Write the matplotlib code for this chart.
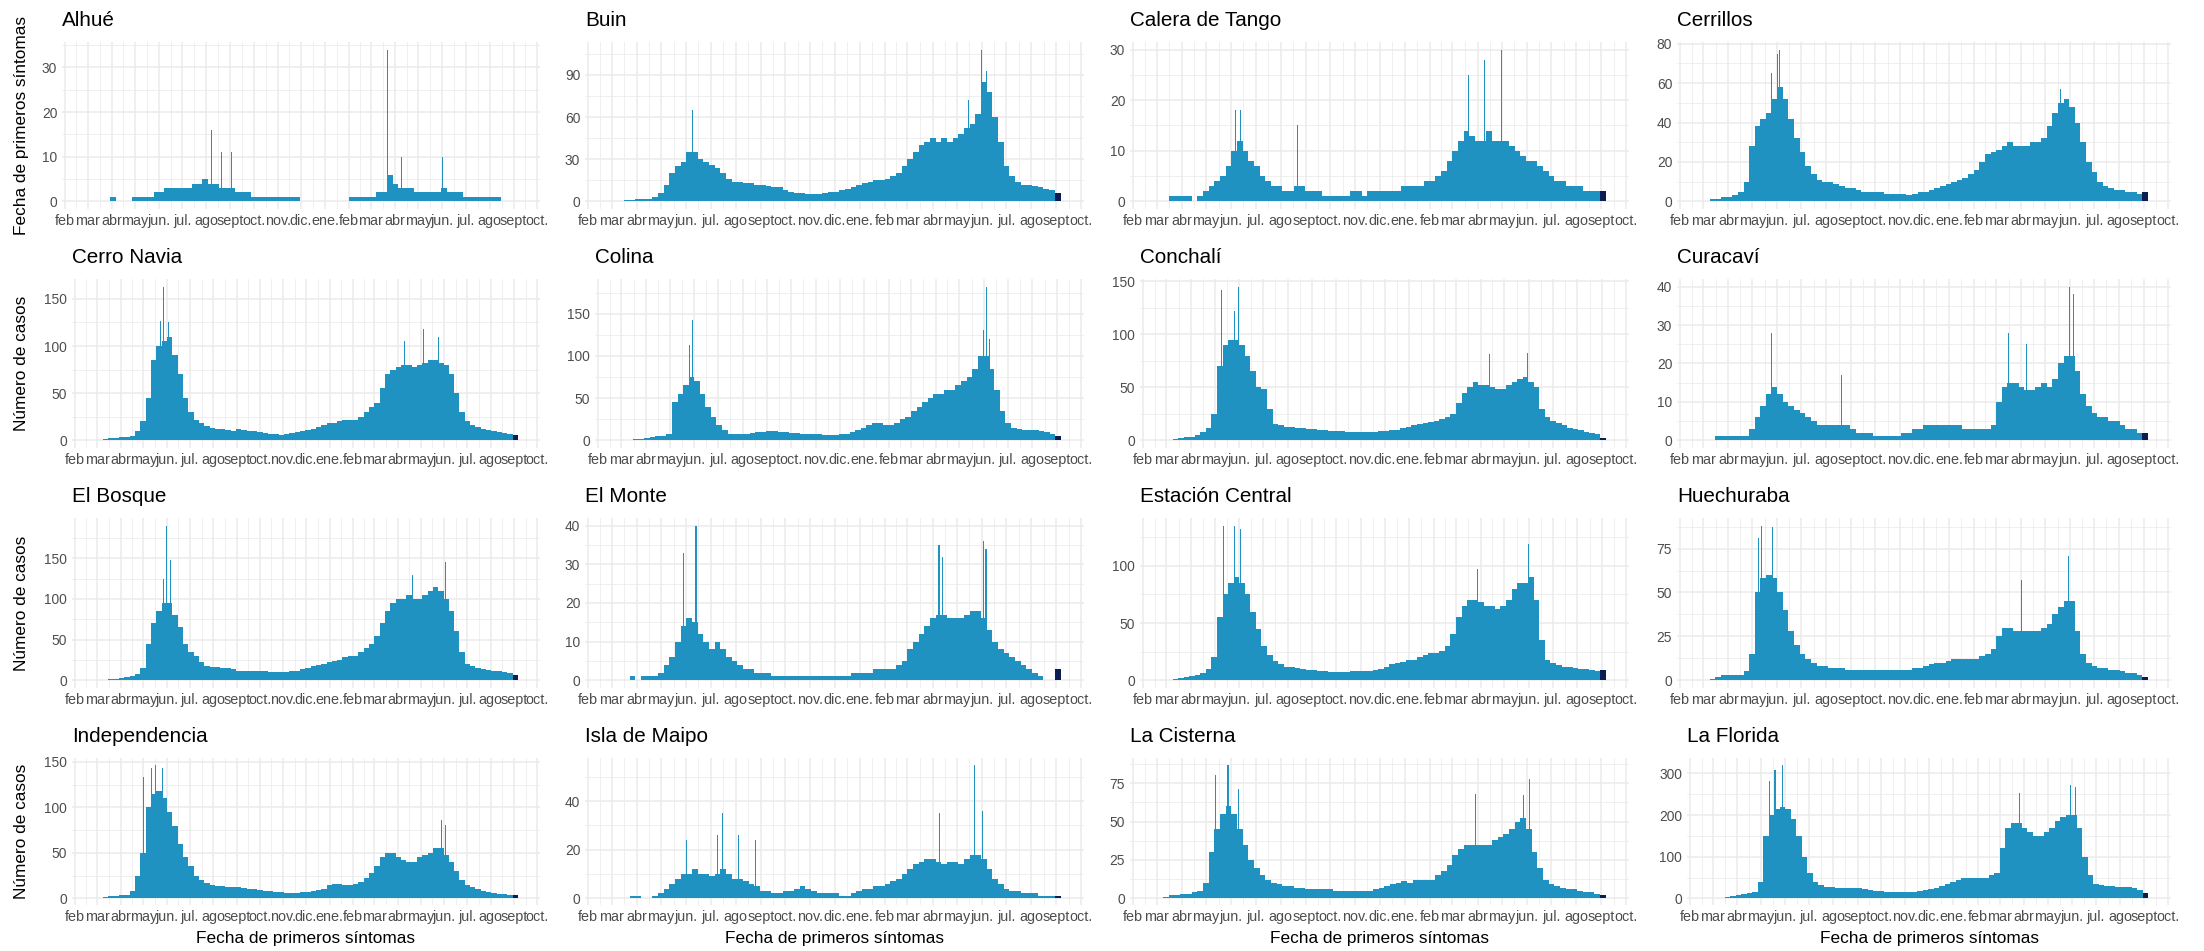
import matplotlib
matplotlib.use("Agg")
import matplotlib.pyplot as plt
import matplotlib.dates as mdates
from matplotlib.ticker import MultipleLocator
import numpy as np
import pandas as pd

plt.rcParams["font.family"] = ["Liberation Sans", "DejaVu Sans"]

# casos por semana de primeros síntomas (lunes desde el 2 de marzo 2020);
# la última semana es provisoria
semanas = pd.date_range("2020-03-02", periods=79, freq="7D")

alhue = [0, 0, 0, 0, 1, 0, 0, 0, 1, 1, 1, 1, 2, 2, 3, 3, 3, 3, 3, 4, 4, 5, 4, 4, 3, 3,
         3, 2, 2, 2, 1, 1, 1, 1, 1, 1, 1, 1, 1, 0, 0, 0, 0, 0, 0, 0, 0, 0, 1, 1, 1, 1,
         1, 2, 2, 6, 4, 3, 3, 3, 2, 2, 2, 2, 2, 3, 2, 2, 2, 1, 1, 1, 1, 1, 1, 1, 0, 0, 0]
buin = [0, 0, 1, 1, 2, 2, 2, 3, 6, 12, 20, 25, 28, 35, 35, 30, 28, 26, 24, 20, 16, 14, 14, 13, 13, 12,
        12, 11, 10, 10, 8, 7, 6, 6, 5, 5, 5, 6, 7, 7, 8, 9, 10, 12, 13, 14, 15, 15, 16, 18, 20, 25,
        30, 35, 40, 42, 45, 42, 45, 42, 45, 48, 52, 55, 62, 85, 78, 60, 42, 25, 18, 14, 12, 12, 11, 10, 9, 8, 6]
calera = [0, 0, 1, 1, 1, 1, 0, 1, 2, 3, 4, 5, 7, 10, 12, 10, 8, 7, 5, 4, 3, 3, 2, 2, 3, 3,
          2, 2, 2, 1, 1, 1, 1, 1, 2, 2, 1, 2, 2, 2, 2, 2, 2, 3, 3, 3, 3, 4, 4, 5, 6, 8,
          10, 12, 14, 13, 12, 12, 14, 12, 12, 12, 11, 10, 9, 8, 8, 7, 6, 5, 4, 4, 3, 3, 3, 2, 2, 2, 2]
cerrillos = [0, 1, 1, 2, 2, 3, 5, 10, 28, 38, 42, 45, 52, 58, 52, 42, 32, 25, 18, 14, 11, 10, 10, 9, 8, 7,
             7, 6, 5, 5, 5, 5, 4, 4, 4, 4, 3, 4, 5, 5, 6, 7, 8, 9, 10, 11, 12, 14, 16, 20, 24, 25,
             26, 28, 30, 28, 28, 28, 30, 30, 32, 38, 45, 50, 52, 48, 40, 30, 20, 15, 10, 8, 7, 6, 6, 5, 5, 4, 5]
cerro_navia = [0, 1, 2, 2, 3, 4, 5, 10, 20, 45, 85, 100, 105, 110, 90, 70, 45, 30, 22, 18, 15, 13, 12, 12, 11, 10,
               12, 11, 10, 10, 9, 8, 7, 7, 6, 7, 8, 9, 10, 11, 12, 14, 16, 18, 18, 20, 22, 22, 22, 25, 30, 35,
               40, 55, 70, 75, 78, 80, 80, 78, 80, 82, 85, 85, 82, 80, 70, 50, 30, 20, 16, 14, 12, 11, 10, 9, 8, 7, 6]
colina = [0, 0, 1, 2, 3, 4, 5, 5, 8, 45, 55, 65, 75, 70, 55, 40, 28, 18, 12, 8, 7, 7, 8, 9, 10, 10,
          11, 11, 10, 10, 9, 9, 8, 8, 8, 7, 6, 6, 6, 7, 8, 10, 12, 14, 18, 20, 20, 18, 18, 20, 25, 28,
          35, 40, 45, 50, 55, 55, 60, 60, 65, 70, 75, 85, 100, 100, 85, 60, 35, 20, 15, 13, 12, 12, 12, 11, 10, 8, 5]
conchali = [0, 1, 2, 3, 3, 5, 8, 12, 25, 70, 90, 95, 95, 90, 80, 65, 50, 48, 30, 15, 14, 13, 13, 12, 12, 11,
            11, 10, 10, 9, 9, 9, 8, 8, 8, 8, 8, 8, 9, 9, 10, 10, 12, 13, 14, 15, 16, 17, 18, 20, 22, 25,
            35, 45, 50, 55, 52, 52, 50, 48, 48, 52, 55, 58, 60, 55, 50, 30, 22, 18, 16, 14, 12, 11, 10, 8, 7, 6, 2]
curacavi = [0, 0, 1, 1, 1, 1, 1, 1, 3, 6, 9, 12, 14, 12, 10, 9, 8, 7, 6, 5, 4, 4, 4, 4, 4, 4,
            3, 2, 2, 2, 1, 1, 1, 1, 1, 2, 2, 3, 3, 4, 4, 4, 4, 4, 4, 4, 3, 3, 3, 3, 3, 4,
            10, 14, 15, 15, 14, 13, 13, 14, 15, 14, 16, 20, 22, 22, 18, 12, 9, 7, 6, 6, 5, 5, 4, 3, 3, 2, 2]
el_bosque = [0, 0, 1, 2, 3, 4, 5, 8, 15, 45, 70, 85, 95, 95, 80, 65, 45, 35, 30, 22, 18, 16, 16, 15, 15, 14,
             12, 12, 12, 11, 11, 11, 10, 10, 10, 10, 11, 12, 14, 15, 17, 19, 20, 22, 24, 25, 28, 30, 30, 35, 40, 45,
             55, 70, 85, 95, 100, 100, 105, 100, 100, 105, 110, 115, 110, 100, 85, 60, 35, 20, 17, 15, 14, 13, 12, 11, 10, 9, 7]
el_monte = [0, 0, 0, 1, 0, 1, 1, 1, 2, 4, 6, 10, 14, 16, 15, 12, 10, 8, 10, 8, 6, 5, 4, 3, 3, 2,
            2, 2, 1, 1, 1, 1, 1, 1, 1, 1, 1, 1, 1, 1, 1, 1, 2, 2, 2, 2, 3, 3, 3, 3, 4, 5,
            8, 10, 12, 14, 16, 17, 17, 16, 16, 16, 17, 18, 18, 16, 13, 10, 8, 7, 6, 5, 4, 3, 2, 1, 0, 0, 3]
est_central = [0, 1, 2, 3, 4, 5, 6, 10, 20, 55, 75, 85, 90, 85, 75, 60, 45, 30, 22, 17, 14, 12, 12, 11, 10, 9,
               9, 8, 8, 7, 7, 7, 7, 8, 8, 8, 8, 9, 10, 12, 14, 15, 16, 18, 18, 20, 22, 24, 24, 26, 30, 40,
               55, 65, 70, 70, 68, 65, 65, 62, 65, 70, 80, 85, 85, 90, 70, 35, 18, 15, 13, 12, 12, 11, 10, 10, 9, 8, 9]
huechuraba = [0, 1, 2, 3, 3, 3, 3, 5, 15, 50, 58, 60, 58, 50, 40, 28, 20, 15, 12, 10, 8, 8, 7, 7, 7, 6,
              6, 6, 6, 6, 6, 6, 6, 6, 6, 6, 6, 7, 7, 8, 9, 10, 10, 11, 12, 12, 12, 12, 12, 14, 15, 18,
              25, 30, 30, 28, 28, 28, 28, 28, 30, 32, 38, 42, 45, 45, 28, 15, 10, 8, 7, 7, 6, 6, 5, 4, 4, 3, 2]
independencia = [0, 1, 2, 3, 4, 4, 8, 25, 50, 100, 115, 118, 110, 95, 80, 60, 45, 35, 25, 20, 17, 15, 14, 13, 12, 12,
                 12, 11, 10, 10, 9, 8, 8, 7, 7, 6, 6, 6, 7, 7, 8, 9, 10, 15, 16, 16, 15, 15, 16, 18, 22, 28,
                 35, 45, 50, 50, 45, 42, 40, 40, 45, 48, 50, 55, 55, 48, 40, 30, 20, 15, 12, 10, 8, 7, 6, 5, 5, 4, 4]
isla_maipo = [0, 0, 0, 1, 1, 0, 0, 1, 2, 4, 6, 8, 10, 10, 12, 10, 10, 9, 10, 12, 10, 8, 8, 7, 6, 5,
              3, 3, 2, 2, 3, 3, 4, 5, 4, 3, 2, 2, 2, 2, 1, 1, 2, 3, 4, 4, 5, 5, 6, 7, 8, 10,
              12, 14, 15, 16, 16, 15, 14, 15, 15, 14, 16, 18, 18, 16, 12, 8, 6, 4, 3, 3, 2, 2, 2, 1, 1, 1, 1]
la_cisterna = [0, 1, 2, 2, 3, 3, 4, 5, 10, 30, 45, 55, 60, 55, 45, 35, 25, 20, 15, 12, 10, 9, 8, 8, 7, 7,
               6, 6, 6, 6, 6, 5, 5, 5, 5, 5, 5, 5, 6, 7, 8, 9, 10, 11, 10, 12, 12, 12, 12, 15, 18, 22,
               28, 32, 35, 35, 35, 35, 35, 38, 40, 42, 45, 50, 52, 45, 30, 20, 12, 9, 8, 7, 6, 6, 5, 4, 4, 3, 2]
la_florida = [0, 1, 3, 5, 8, 10, 12, 15, 40, 150, 200, 215, 220, 215, 190, 150, 100, 60, 40, 32, 28, 26, 25, 25, 25, 24,
              25, 22, 20, 18, 17, 16, 15, 15, 15, 15, 16, 18, 20, 22, 25, 30, 35, 40, 45, 48, 50, 50, 48, 50, 55, 60,
              120, 170, 180, 180, 170, 160, 150, 150, 160, 170, 185, 195, 200, 200, 170, 100, 55, 35, 32, 30, 30, 28, 28, 26, 24, 20, 12]

# días puntuales que sobresalen (fecha, casos)
alhue_picos = [("2020-08-08", 16), ("2020-08-20", 11), ("2020-09-02", 11), ("2021-03-23", 34),
               ("2021-04-10", 10), ("2021-06-01", 10)]
buin_picos = [("2020-06-09", 65), ("2021-05-16", 72), ("2021-06-01", 108), ("2021-06-07", 93)]
calera_picos = [("2020-06-06", 18), ("2020-06-12", 18), ("2020-08-22", 15), ("2021-03-21", 25),
                ("2021-04-10", 28), ("2021-05-01", 30)]
cerrillos_picos = [("2020-05-25", 65), ("2020-06-01", 75), ("2020-06-04", 77), ("2021-05-14", 44),
                   ("2021-05-20", 57)]
cerro_navia_picos = [("2020-05-24", 127), ("2020-05-28", 163), ("2020-06-03", 125), ("2021-04-10", 105),
                     ("2021-05-05", 118), ("2021-05-25", 110)]
colina_picos = [("2020-05-26", 113), ("2020-05-30", 142), ("2021-05-31", 131), ("2021-06-04", 182),
                ("2021-06-08", 120)]
conchali_picos = [("2020-05-10", 142), ("2020-05-26", 122), ("2020-05-31", 145), ("2021-04-12", 81),
                  ("2021-05-30", 82)]
curacavi_picos = [("2020-05-25", 28), ("2020-08-20", 17), ("2021-03-16", 28), ("2021-04-08", 25),
                  ("2021-05-31", 40), ("2021-06-05", 38)]
el_bosque_picos = [("2020-05-27", 125), ("2020-05-31", 190), ("2020-06-05", 148), ("2021-04-20", 130),
                   ("2021-06-02", 146)]
el_monte_picos = [("2020-05-29", 33), ("2020-06-13", 40), ("2021-04-09", 35), ("2021-04-13", 32),
                  ("2021-06-03", 36), ("2021-06-06", 34)]
est_central_picos = [("2020-05-12", 135), ("2020-05-26", 135), ("2020-06-02", 132), ("2021-03-28", 97),
                     ("2021-05-31", 119)]
huechuraba_picos = [("2020-05-09", 81), ("2020-05-12", 88), ("2020-05-26", 87), ("2021-04-01", 57),
                    ("2021-05-30", 71)]
independencia_picos = [("2020-05-01", 133), ("2020-05-12", 143), ("2020-05-17", 147), ("2020-05-26", 143),
                       ("2021-05-29", 86), ("2021-06-03", 81)]
isla_maipo_picos = [("2020-06-01", 24), ("2020-07-10", 26), ("2020-07-16", 35), ("2020-08-05", 26),
                    ("2020-08-25", 24), ("2021-04-10", 35), ("2021-05-23", 55), ("2021-06-02", 36)]
la_cisterna_picos = [("2020-05-12", 80), ("2020-05-28", 87), ("2020-06-10", 71), ("2021-03-30", 68),
                     ("2021-05-28", 67), ("2021-06-04", 78)]
la_florida_picos = [("2020-05-12", 283), ("2020-05-19", 308), ("2020-05-29", 321), ("2021-03-26", 254),
                    ("2021-05-30", 271), ("2021-06-05", 268)]

comunas = ["Alhué", "Buin", "Calera de Tango", "Cerrillos", "Cerro Navia", "Colina", "Conchalí",
           "Curacaví", "El Bosque", "El Monte", "Estación Central", "Huechuraba", "Independencia",
           "Isla de Maipo", "La Cisterna", "La Florida"]
paso_y = [10, 30, 10, 20, 50, 50, 50, 10, 50, 10, 50, 25, 50, 20, 25, 100]

meses = pd.date_range("2020-02-01", "2021-10-01", freq="MS")
etiquetas_mes = ["feb", "mar", "abr", "may", "jun.", "jul.", "ago", "sept", "oct.", "nov.", "dic.",
                 "ene.", "feb", "mar", "abr", "may", "jun.", "jul.", "ago", "sept", "oct."]

series = [alhue, buin, calera, cerrillos, cerro_navia, colina, conchali, curacavi,
          el_bosque, el_monte, est_central, huechuraba, independencia, isla_maipo,
          la_cisterna, la_florida]
picos = [alhue_picos, buin_picos, calera_picos, cerrillos_picos, cerro_navia_picos,
         colina_picos, conchali_picos, curacavi_picos, el_bosque_picos, el_monte_picos,
         est_central_picos, huechuraba_picos, independencia_picos, isla_maipo_picos,
         la_cisterna_picos, la_florida_picos]

azul = "#1f92c1"
marino = "#0b1d51"
gris_grilla = "#ebebeb"

W, H = 2204, 951
fig = plt.figure(figsize=(W / 100, H / 100), dpi=100)

col_left = [62, 585, 1130, 1677]
col_right = [540, 1084, 1629, 2171]
row_top = [42, 279, 518, 758]
row_bottom = [209, 448, 688, 905]

x_sem = mdates.date2num(semanas)
x_meses = mdates.date2num(meses)
x_medios = (x_meses[:-1] + x_meses[1:]) / 2
x_min = mdates.date2num(pd.Timestamp("2020-01-28"))
x_max = mdates.date2num(pd.Timestamp("2021-10-05"))

for i, (nombre, semanal, pico, paso) in enumerate(zip(comunas, series, picos, paso_y)):
    r, c = divmod(i, 4)
    p_x = mdates.date2num(pd.to_datetime([f for f, _ in pico]))
    p_y = [v for _, v in pico]
    vmax = max(max(semanal), max(p_y))
    ticks = np.arange(0, 1.05 * vmax + 1e-9, paso)
    extra = 10 if ticks[-1] >= 100 else 0
    left = col_left[c] + extra
    right = col_right[c]
    top, bottom = row_top[r], row_bottom[r]
    ax = fig.add_axes([left / W, 1 - bottom / H, (right - left) / W, (bottom - top) / H])

    colores = [azul] * (len(semanal) - 1) + [marino]
    ax.bar(x_sem, semanal, width=7, align="edge", color=colores, linewidth=0)
    ax.bar(p_x, p_y, width=1.3, color=azul, linewidth=0)

    ax.set_xlim(x_min, x_max)
    ax.set_ylim(-0.05 * vmax, 1.05 * vmax)
    ax.set_xticks(x_meses)
    ax.set_xticklabels(etiquetas_mes)
    ax.set_xticks(x_medios, minor=True)
    ax.yaxis.set_major_locator(MultipleLocator(paso))
    ax.yaxis.set_minor_locator(MultipleLocator(paso / 2))
    ax.set_axisbelow(True)
    ax.grid(which="major", color=gris_grilla, linewidth=1.1)
    ax.grid(which="minor", color=gris_grilla, linewidth=0.55)
    for s in ax.spines.values():
        s.set_visible(False)
    ax.tick_params(which="both", length=0)
    ax.tick_params(axis="y", labelsize=9.9, labelcolor="#4d4d4d", pad=3.5)
    ax.tick_params(axis="x", labelsize=10.4, labelcolor="#4d4d4d", pad=3.5)

    fig.text(left / W, 1 - (top - 16) / H, nombre, ha="left", va="baseline", fontsize=14.9)

    if c == 0:
        etiqueta = "Fecha de primeros síntomas" if r == 0 else "Número de casos"
        fig.text(22 / W, 1 - (top + bottom) / 2 / H, etiqueta, rotation=90,
                 ha="center", va="center", fontsize=12.4)
    if r == 3:
        fig.text((left + right) / 2 / W, 1 - 939 / H, "Fecha de primeros síntomas",
                 ha="center", va="center", fontsize=12.4)

fig.savefig("out.png", dpi=100)
